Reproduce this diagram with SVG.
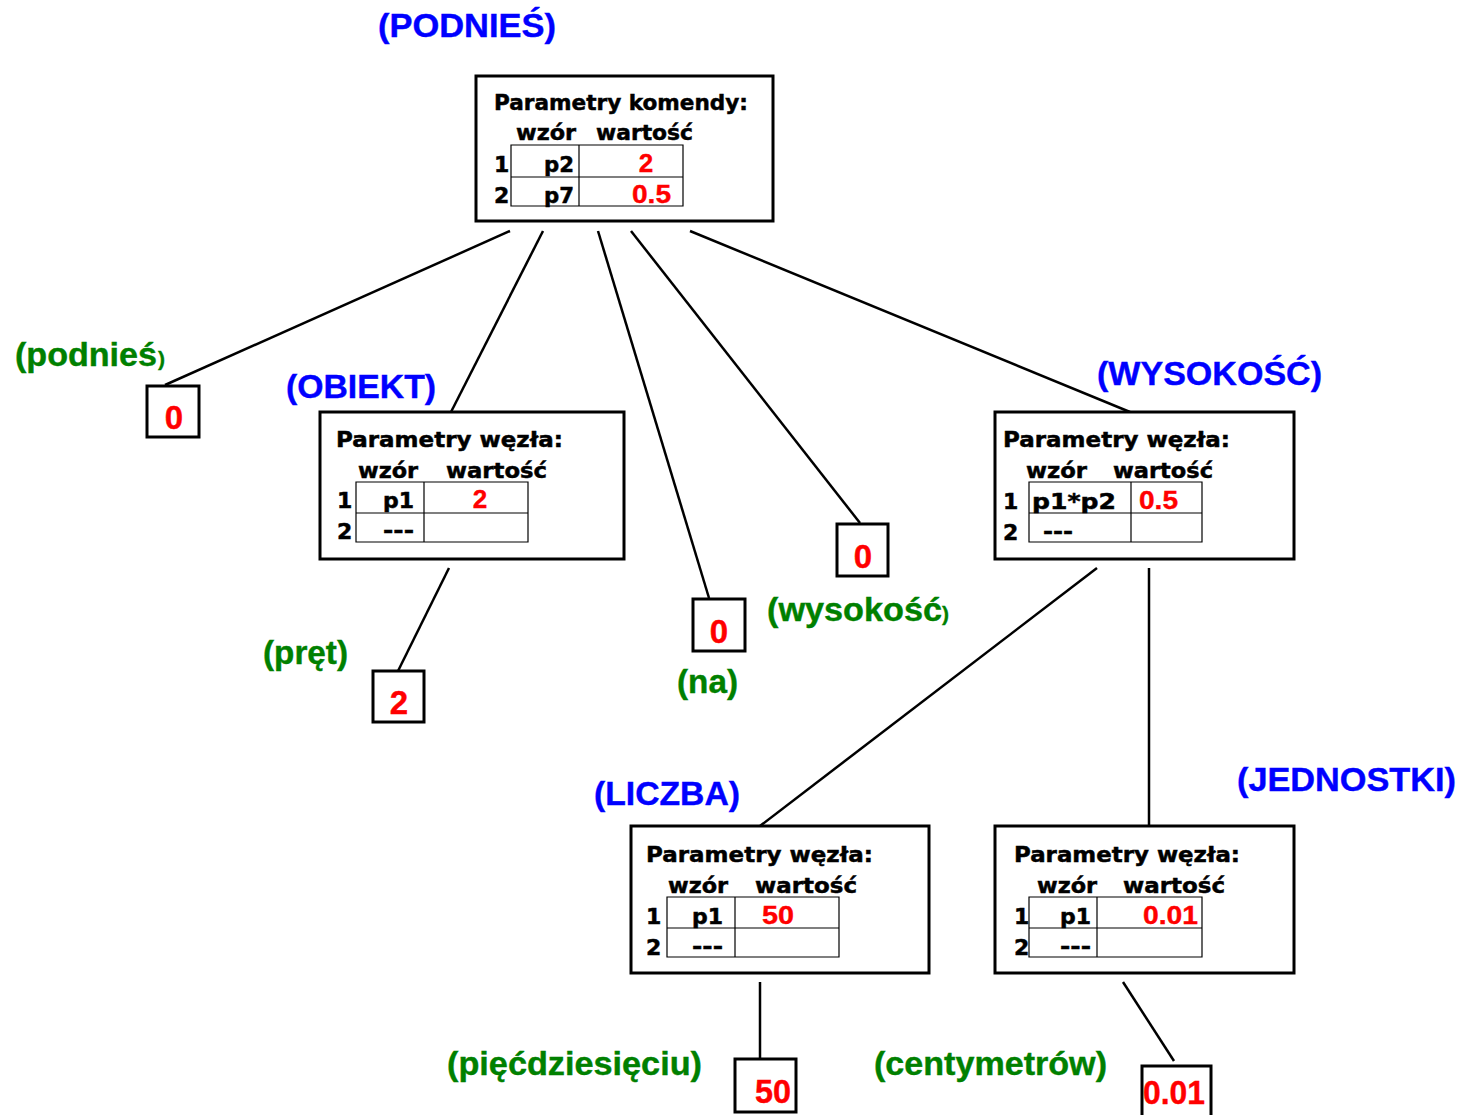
<svg xmlns="http://www.w3.org/2000/svg" width="1459" height="1115" viewBox="0 0 1459 1115">
  <style>
    .box { fill: #ffffff; stroke: #000000; stroke-width: 3; }
    .grid { fill: none; stroke: #000000; stroke-width: 1.2; }
    .edge { stroke: #000000; stroke-width: 2.5; fill: none; }
    .hdr { font-family: "DejaVu Sans", Verdana, sans-serif; font-weight: bold; font-size: 22px; fill: #000000; stroke: #000000; stroke-width: 0.5; }
    .val { font-family: "Liberation Sans", Arial, sans-serif; font-weight: bold; font-size: 26px; fill: #ff0000; stroke: #ff0000; stroke-width: 0.4; }
    .leaf { font-family: "Liberation Sans", Arial, sans-serif; font-weight: bold; font-size: 33px; fill: #ff0000; stroke: #ff0000; stroke-width: 0.4; }
    .cat { font-family: "Liberation Sans", Arial, sans-serif; font-weight: bold; font-size: 33px; fill: #0000ff; stroke: #0000ff; stroke-width: 0.4; }
    .word { font-family: "Liberation Sans", Arial, sans-serif; font-weight: bold; font-size: 33px; fill: #008000; stroke: #008000; stroke-width: 0.4; }
    .small { font-size: 21px; }
  </style>

  <!-- connectors -->
  <g id="connectors">
    <line class="edge" x1="510" y1="231" x2="165" y2="385"/>
    <line class="edge" x1="543" y1="231" x2="451" y2="412"/>
    <line class="edge" x1="598" y1="231" x2="709" y2="598"/>
    <line class="edge" x1="631" y1="231" x2="860" y2="523"/>
    <line class="edge" x1="690" y1="231" x2="1130" y2="412"/>
    <line class="edge" x1="449" y1="568" x2="398" y2="671"/>
    <line class="edge" x1="1097" y1="568" x2="760" y2="826"/>
    <line class="edge" x1="1149" y1="568" x2="1149" y2="826"/>
    <line class="edge" x1="760" y1="982" x2="760" y2="1059"/>
    <line class="edge" x1="1123" y1="982" x2="1174" y2="1061"/>
  </g>

  <!-- root: PODNIEŚ -->
  <g id="node-podnies">
    <text class="cat" x="378" y="37" textLength="178" lengthAdjust="spacingAndGlyphs">(PODNIEŚ)</text>
    <rect class="box" x="476" y="76" width="297" height="145"/>
    <text class="hdr" x="494" y="110" textLength="254" lengthAdjust="spacingAndGlyphs">Parametry komendy:</text>
    <text class="hdr" x="516" y="140" textLength="60" lengthAdjust="spacingAndGlyphs">wzór</text>
    <text class="hdr" x="596" y="140" textLength="97" lengthAdjust="spacingAndGlyphs">wartość</text>
    <path class="grid" d="M511 145H683V206H511Z M511 177H683 M579 145V206"/>
    <text class="hdr" x="494" y="172">1</text>
    <text class="hdr" x="494" y="203">2</text>
    <text class="hdr" x="544" y="172" textLength="30" lengthAdjust="spacingAndGlyphs">p2</text>
    <text class="hdr" x="544" y="203" textLength="30" lengthAdjust="spacingAndGlyphs">p7</text>
    <text class="val" x="646" y="172" text-anchor="middle">2</text>
    <text class="val" x="632" y="203" textLength="39" lengthAdjust="spacingAndGlyphs">0.5</text>
  </g>

  <!-- leaf: podnieś -->
  <g id="leaf-podnies">
    <text class="word" x="15" y="366" textLength="142" lengthAdjust="spacingAndGlyphs">(podnieś</text>
    <text class="word small" x="158" y="366">)</text>
    <rect class="box" x="147" y="386" width="52" height="51"/>
    <text class="leaf" x="174" y="429" text-anchor="middle">0</text>
  </g>

  <!-- OBIEKT -->
  <g id="node-obiekt">
    <text class="cat" x="286" y="398" textLength="150" lengthAdjust="spacingAndGlyphs">(OBIEKT)</text>
    <rect class="box" x="320" y="412" width="304" height="147"/>
    <text class="hdr" x="336" y="447" textLength="227" lengthAdjust="spacingAndGlyphs">Parametry węzła:</text>
    <text class="hdr" x="358" y="478" textLength="60" lengthAdjust="spacingAndGlyphs">wzór</text>
    <text class="hdr" x="446" y="478" textLength="101" lengthAdjust="spacingAndGlyphs">wartość</text>
    <path class="grid" d="M356 482H528V542H356Z M356 513H528 M424 482V542"/>
    <text class="hdr" x="337" y="508">1</text>
    <text class="hdr" x="337" y="539">2</text>
    <text class="hdr" x="383" y="508" textLength="31" lengthAdjust="spacingAndGlyphs">p1</text>
    <text class="hdr" x="383" y="538" textLength="31" lengthAdjust="spacingAndGlyphs">---</text>
    <text class="val" x="480" y="508" text-anchor="middle">2</text>
  </g>

  <!-- leaf: pręt -->
  <g id="leaf-pret">
    <text class="word" x="263" y="664" textLength="85" lengthAdjust="spacingAndGlyphs">(pręt)</text>
    <rect class="box" x="373" y="671" width="51" height="51"/>
    <text class="leaf" x="399" y="714" text-anchor="middle">2</text>
  </g>

  <!-- leaf: na -->
  <g id="leaf-na">
    <rect class="box" x="693" y="599" width="52" height="52"/>
    <text class="leaf" x="719" y="643" text-anchor="middle">0</text>
    <text class="word" x="677" y="693" textLength="61" lengthAdjust="spacingAndGlyphs">(na)</text>
  </g>

  <!-- leaf: wysokość -->
  <g id="leaf-wysokosc">
    <rect class="box" x="837" y="524" width="51" height="52"/>
    <text class="leaf" x="863" y="568" text-anchor="middle">0</text>
    <text class="word" x="767" y="621" textLength="175" lengthAdjust="spacingAndGlyphs">(wysokość</text>
    <text class="word small" x="942" y="621">)</text>
  </g>

  <!-- WYSOKOŚĆ -->
  <g id="node-wysokosc">
    <text class="cat" x="1097" y="385" textLength="225" lengthAdjust="spacingAndGlyphs">(WYSOKOŚĆ)</text>
    <rect class="box" x="995" y="412" width="299" height="147"/>
    <text class="hdr" x="1003" y="447" textLength="227" lengthAdjust="spacingAndGlyphs">Parametry węzła:</text>
    <text class="hdr" x="1026" y="478" textLength="61" lengthAdjust="spacingAndGlyphs">wzór</text>
    <text class="hdr" x="1113" y="478" textLength="100" lengthAdjust="spacingAndGlyphs">wartość</text>
    <path class="grid" d="M1029 482H1202V542H1029Z M1029 513H1202 M1131 482V542"/>
    <text class="hdr" x="1003" y="509">1</text>
    <text class="hdr" x="1003" y="540">2</text>
    <text class="hdr" x="1032" y="509" textLength="84" lengthAdjust="spacingAndGlyphs">p1*p2</text>
    <text class="hdr" x="1043" y="539" textLength="30" lengthAdjust="spacingAndGlyphs">---</text>
    <text class="val" x="1139" y="509" textLength="39" lengthAdjust="spacingAndGlyphs">0.5</text>
  </g>

  <!-- LICZBA -->
  <g id="node-liczba">
    <text class="cat" x="594" y="805" textLength="146" lengthAdjust="spacingAndGlyphs">(LICZBA)</text>
    <rect class="box" x="631" y="826" width="298" height="147"/>
    <text class="hdr" x="646" y="862" textLength="227" lengthAdjust="spacingAndGlyphs">Parametry węzła:</text>
    <text class="hdr" x="668" y="893" textLength="60" lengthAdjust="spacingAndGlyphs">wzór</text>
    <text class="hdr" x="755" y="893" textLength="102" lengthAdjust="spacingAndGlyphs">wartość</text>
    <path class="grid" d="M667 897H839V957H667Z M667 928H839 M735 897V957"/>
    <text class="hdr" x="646" y="924">1</text>
    <text class="hdr" x="646" y="955">2</text>
    <text class="hdr" x="692" y="924" textLength="31" lengthAdjust="spacingAndGlyphs">p1</text>
    <text class="hdr" x="692" y="954" textLength="31" lengthAdjust="spacingAndGlyphs">---</text>
    <text class="val" x="762" y="924" textLength="32" lengthAdjust="spacingAndGlyphs">50</text>
  </g>

  <!-- leaf: pięćdziesięciu -->
  <g id="leaf-piecdziesieciu">
    <text class="word" x="447" y="1075" textLength="255" lengthAdjust="spacingAndGlyphs">(pięćdziesięciu)</text>
    <rect class="box" x="735" y="1059" width="61" height="53"/>
    <text class="leaf" x="755" y="1103" textLength="36" lengthAdjust="spacingAndGlyphs">50</text>
  </g>

  <!-- JEDNOSTKI -->
  <g id="node-jednostki">
    <text class="cat" x="1237" y="791" textLength="219" lengthAdjust="spacingAndGlyphs">(JEDNOSTKI)</text>
    <rect class="box" x="995" y="826" width="299" height="147"/>
    <text class="hdr" x="1014" y="862" textLength="226" lengthAdjust="spacingAndGlyphs">Parametry węzła:</text>
    <text class="hdr" x="1037" y="893" textLength="60" lengthAdjust="spacingAndGlyphs">wzór</text>
    <text class="hdr" x="1123" y="893" textLength="102" lengthAdjust="spacingAndGlyphs">wartość</text>
    <path class="grid" d="M1029 897H1202V957H1029Z M1029 928H1202 M1097 897V957"/>
    <text class="hdr" x="1014" y="924">1</text>
    <text class="hdr" x="1014" y="955">2</text>
    <text class="hdr" x="1060" y="924" textLength="31" lengthAdjust="spacingAndGlyphs">p1</text>
    <text class="hdr" x="1060" y="954" textLength="31" lengthAdjust="spacingAndGlyphs">---</text>
    <text class="val" x="1143" y="924" textLength="55" lengthAdjust="spacingAndGlyphs">0.01</text>
  </g>

  <!-- leaf: centymetrów -->
  <g id="leaf-centymetrow">
    <text class="word" x="874" y="1075" textLength="233" lengthAdjust="spacingAndGlyphs">(centymetrów)</text>
    <rect class="box" x="1142" y="1066" width="69" height="60"/>
    <text class="leaf" x="1143" y="1104" textLength="62" lengthAdjust="spacingAndGlyphs">0.01</text>
  </g>
</svg>
